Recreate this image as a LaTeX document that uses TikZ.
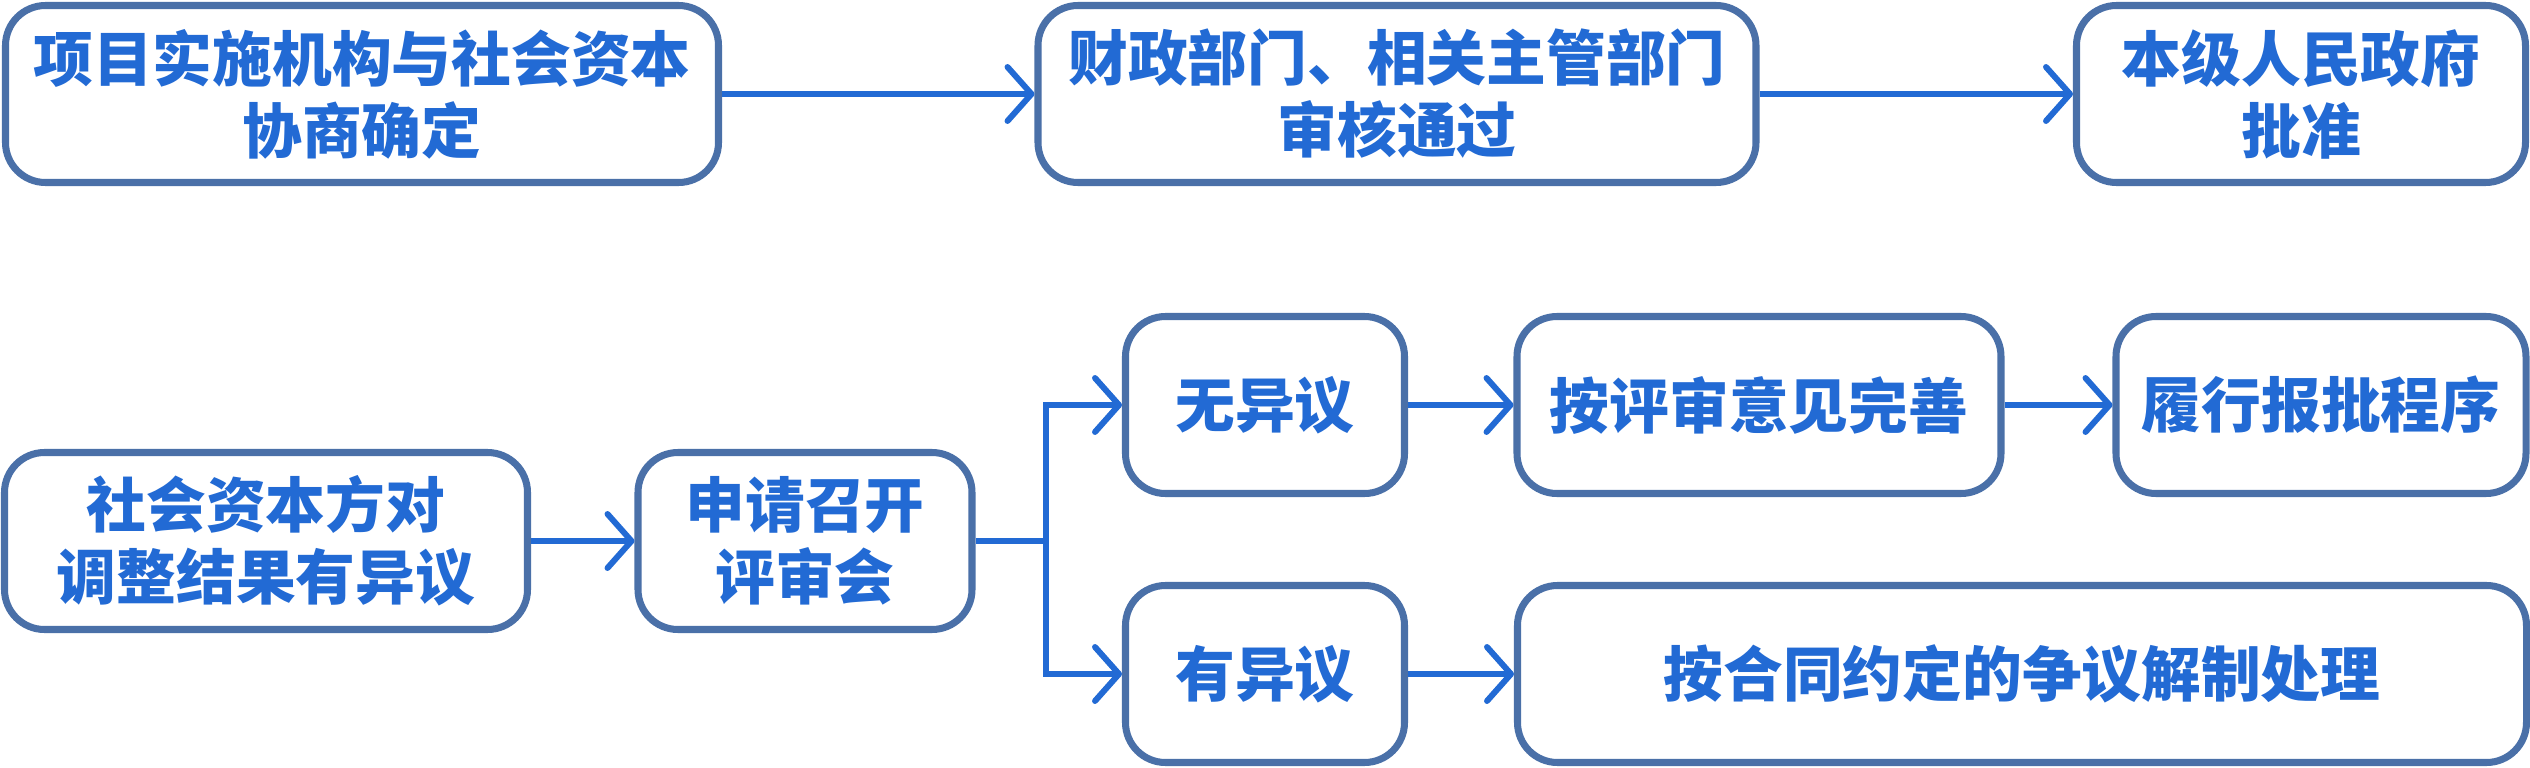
\documentclass[tikz,border=0pt]{standalone}
\usepackage{fontspec}
\newfontfamily\cjk{Noto Sans CJK SC}
\usetikzlibrary{arrows.meta,calc}
\definecolor{boxline}{RGB}{74,112,168}
\definecolor{txtblue}{RGB}{34,106,212}

\begin{document}
\begin{tikzpicture}[
  box/.style={draw=boxline,line width=2pt,rounded corners=0.4cm,fill=white,align=center,
    text=txtblue,inner sep=0pt,minimum height=1.77cm,font=\cjk\bfseries\fontsize{17}{20.5}\selectfont},
  flow/.style={draw=txtblue,line width=1.7pt,-{Straight Barb[length=2.4mm,width=5.4mm,round]}}]
  \useasboundingbox (0,0) rectangle (25.3,7.67);
  % top row
  \node[box,minimum width=7.13cm] (consult) at (3.62,6.73) {项目实施机构与社会资本\\协商确定};
  \node[box,minimum width=7.18cm] (audit) at (13.97,6.73) {财政部门、相关主管部门\\审核通过};
  \node[box,minimum width=4.49cm] (approve) at (23.01,6.73) {本级人民政府\\批准};
  \draw[flow] (consult) -- (audit);
  \draw[flow] (audit) -- (approve);
  % bottom row
  \node[box,minimum width=5.23cm] (dispute) at (2.66,2.26) {社会资本方对\\调整结果有异议};
  \node[box,minimum width=3.34cm] (review) at (8.05,2.26) {申请召开\\评审会};
  \node[box,minimum width=2.79cm] (noobj) at (12.65,3.62) {无异议};
  \node[box,minimum width=2.79cm] (obj) at (12.65,0.93) {有异议};
  \node[box,minimum width=4.84cm] (improve) at (17.59,3.62) {按评审意见完善};
  \node[box,minimum width=4.10cm] (report) at (23.21,3.62) {履行报批程序};
  \node[box,minimum width=10.09cm] (contract) at (20.22,0.93) {按合同约定的争议解制处理};
  \coordinate (split) at (10.46,2.26);
  \draw[flow] (dispute) -- (review);
  \draw[draw=txtblue,line width=1.7pt] (review.east) -- (split);
  \draw[flow] (split) |- (noobj.west);
  \draw[flow] (split) |- (obj.west);
  \draw[flow] (noobj) -- (improve);
  \draw[flow] (improve) -- (report);
  \draw[flow] (obj) -- (contract);
\end{tikzpicture}
\end{document}
